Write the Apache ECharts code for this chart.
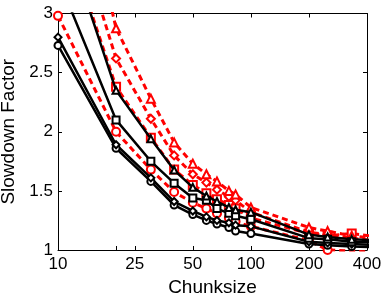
<!DOCTYPE html>
<html><head><meta charset="utf-8">
<script src="https://cdn.jsdelivr.net/npm/echarts@6/dist/echarts.min.js"></script>
<style>html,body{margin:0;padding:0;background:#fff}#c{width:388px;height:296px}</style>
</head><body><div id="c"></div>
<script>
const chunksizes = [10, 20, 30.3, 40, 50, 58.8, 66.7, 76.9, 83.3, 100, 200, 250, 333.3, 500];

const blackCircle   = [2.73, 1.86, 1.58, 1.38, 1.30, 1.25, 1.22, 1.19, 1.16, 1.14, 1.05, 1.04, 1.03, 1.02];
const blackDiamond  = [2.80, 1.89, 1.61, 1.41, 1.33, 1.28, 1.25, 1.23, 1.21, 1.20, 1.07, 1.06, 1.05, 1.04];
const blackSquare   = [3.30, 2.10, 1.75, 1.565, 1.44, 1.42, 1.35, 1.31, 1.29, 1.26, 1.10, 1.09, 1.07, 1.06];
const blackTriangle = [3.83, 2.35, 1.94, 1.676, 1.53, 1.457, 1.41, 1.36, 1.34, 1.32, 1.13, 1.11, 1.09, 1.08];

const redCircle   = [2.98, 2.00, 1.68, 1.49, 1.40, 1.35, 1.31, 1.27, 1.24, 1.20, 1.08, 1.00, 0.99, 0.98];
const redSquare   = [3.85, 2.38, 1.95, 1.68, 1.55, 1.48, 1.43, 1.38, 1.35, 1.27, 1.14, 1.12, 1.14, 1.10];
const redDiamond  = [4.20, 2.62, 2.11, 1.80, 1.64, 1.57, 1.51, 1.45, 1.42, 1.32, 1.15, 1.13, 1.10, 1.07];
const redTriangle = [5.00, 2.875, 2.28, 1.91, 1.73, 1.64, 1.58, 1.50, 1.47, 1.36, 1.19, 1.16, 1.12, 1.09];

const xTickValues = [10, 20, 25, 50, 100, 200, 400];
const xTickLabels = [10, 25, 50, 100, 200, 400];
const xMin = 10, xMax = 400;
const yMin = 1, yMax = 3, yStep = 0.5;

const FONT = 'Liberation Sans, Arial, Helvetica, sans-serif';

function pairs(vals) { return chunksizes.map((x, i) => [x, vals[i]]); }

function blackSeries(name, vals, sym) {
  return {
    name, type: 'line', xAxisIndex: 0, yAxisIndex: 0, data: pairs(vals),
    symbol: sym, symbolSize: 7, showSymbol: true, clip: true, z: 3,
    lineStyle: { color: '#000', width: 2.5 },
    itemStyle: { color: '#000', borderColor: '#000', borderWidth: 1.8 },
    emphasis: { disabled: true }
  };
}
function redSeries(name, vals, sym) {
  return {
    name, type: 'line', xAxisIndex: 0, yAxisIndex: 0, data: pairs(vals),
    symbol: sym, symbolSize: 8, showSymbol: true, clip: true, z: 2,
    lineStyle: { color: '#ff0000', width: 3, type: [6, 4] },
    itemStyle: { color: '#ff0000', borderColor: '#ff0000', borderWidth: 2 },
    emphasis: { disabled: true }
  };
}

const lg = v => Math.log10(v);
const chart = echarts.init(document.getElementById('c'), null, { renderer: 'canvas' });
chart.setOption({
  animation: false,
  backgroundColor: '#fff',
  textStyle: { fontFamily: FONT },
  grid: { left: 58, right: 21, top: 13.5, bottom: 46, containLabel: false, outerBoundsMode: 'none' },
  xAxis: [
    { type: 'log', logBase: 10, min: xMin, max: xMax, position: 'bottom',
      axisLine: { show: true, lineStyle: { color: '#000', width: 1 } },
      axisTick: { show: false }, axisLabel: { show: false }, splitLine: { show: false }, minorTick: { show: false } },
    { type: 'value', min: lg(xMin), max: lg(xMax), position: 'bottom',
      axisLine: { show: false },
      axisTick: { show: true, inside: true, length: 4, lineStyle: { color: '#000' }, customValues: xTickValues.map(lg) },
      axisLabel: { show: true, margin: 6, color: '#000', fontSize: 17, fontFamily: FONT,
        customValues: xTickLabels.map(lg), formatter: v => String(Math.round(Math.pow(10, v))) },
      splitLine: { show: false },
      name: 'Chunksize', nameLocation: 'middle', nameGap: 24,
      nameTextStyle: { color: '#000', fontSize: 19, fontFamily: FONT } },
    { type: 'value', min: lg(xMin), max: lg(xMax), position: 'top',
      axisLine: { show: true, lineStyle: { color: '#000', width: 1 } },
      axisTick: { show: true, inside: true, length: 4, lineStyle: { color: '#000' }, customValues: xTickValues.map(lg) },
      axisLabel: { show: false }, splitLine: { show: false } }
  ],
  yAxis: [
    { type: 'value', min: yMin, max: yMax, interval: yStep, position: 'left',
      axisLine: { show: true, lineStyle: { color: '#000', width: 1 } },
      axisTick: { show: true, inside: true, length: 4, lineStyle: { color: '#000' } },
      axisLabel: { color: '#000', fontSize: 17, margin: 5, fontFamily: FONT },
      splitLine: { show: false },
      name: 'Slowdown Factor', nameLocation: 'middle', nameGap: 36,
      nameTextStyle: { color: '#000', fontSize: 19, fontFamily: FONT } },
    { type: 'value', min: yMin, max: yMax, interval: yStep, position: 'right',
      axisLine: { show: true, lineStyle: { color: '#000', width: 1 } },
      axisTick: { show: true, inside: true, length: 4, lineStyle: { color: '#000' } },
      axisLabel: { show: false }, splitLine: { show: false } }
  ],
  series: [
    redSeries('red circle', redCircle, 'emptyCircle'),
    redSeries('red square', redSquare, 'emptyRect'),
    redSeries('red diamond', redDiamond, 'emptyDiamond'),
    redSeries('red triangle', redTriangle, 'emptyTriangle'),
    blackSeries('black circle', blackCircle, 'emptyCircle'),
    blackSeries('black diamond', blackDiamond, 'emptyDiamond'),
    blackSeries('black square', blackSquare, 'emptyRect'),
    blackSeries('black triangle', blackTriangle, 'emptyTriangle')
  ]
});
</script></body></html>
